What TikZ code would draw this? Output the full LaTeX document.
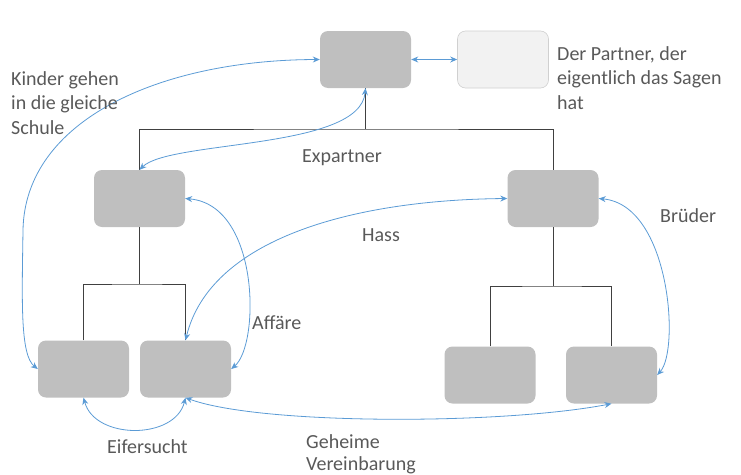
\documentclass[tikz,border=0pt]{standalone}
\usepackage{fontspec}
\setmainfont{Carlito}
\usetikzlibrary{arrows.meta}
\definecolor{boxgray}{HTML}{BFBFBF}
\definecolor{palegray}{HTML}{F2F2F2}
\definecolor{rimgray}{HTML}{D0D0D0}
\definecolor{linkblue}{HTML}{5B9BD5}
\definecolor{txtgray}{HTML}{595959}
\definecolor{treegray}{HTML}{404040}

\begin{document}
\begin{tikzpicture}[x=1pt, y=-1pt,
    box/.style={fill=boxgray, rounded corners=8pt, minimum width=91pt, minimum height=57pt, inner sep=0pt},
    palebox/.style={box, fill=palegray, draw=rimgray, line width=0.6pt},
    tree/.style={draw=treegray, line width=0.9pt},
    link/.style={linkblue, line width=0.8pt, {Stealth[length=7pt,width=6pt]}-{Stealth[length=7pt,width=6pt]}},
    lbl/.style={text=txtgray, font=\fontsize{20}{24.5}\selectfont, inner sep=0pt, align=left, anchor=base west}]
        \useasboundingbox (0, 0) rectangle (741, 474);

        % boxes
        \node[box] (root) at (365.5, 59.5) {};
        \node[palebox] (partner) at (503, 59.5) {};
        \node[box] (midl) at (139.5, 198.5) {};
        \node[box] (midr) at (553, 198.5) {};
        \node[box] (leafa) at (83.5, 369) {};
        \node[box] (leafb) at (185.5, 369) {};
        \node[box] (leafc) at (490, 375) {};
        \node[box] (leafd) at (611.5, 375) {};

        % tree
        \coordinate (j0) at (365.5, 129);
        \coordinate (j1) at (139.5, 284);
        \coordinate (j2) at (553, 286);
        \draw[tree] (root.south) -- (j0);
        \draw[tree] (midl.north) |- (j0) -| (midr.north);
        \draw[tree] (midl.south) -- (j1);
        \draw[tree] (leafa.north) |- (j1) -| (leafb.north);
        \draw[tree] (midr.south) -- (j2);
        \draw[tree] (leafc.north) |- (j2) -| (leafd.north);

        % relations
        \draw[link] (root.east) -- (partner.west);
        \draw[link] (leafa.west) .. controls (20, 355) and (22, 300) .. (23, 230) .. controls (25, 120) and (160, 60) .. (root.west);
        \draw[link] (root.south) .. controls (360, 150) and (170, 140) .. (midl.north);
        \draw[link] (midl.east) .. controls (260, 205) and (260, 345) .. (leafb.east);
        \draw[link] (leafb.north) .. controls (210, 240) and (350, 200) .. (midr.west);
        \draw[link] (midr.east) .. controls (670, 205) and (680, 350) .. (leafd.east);
        \draw[link] (leafa.south) .. controls (95, 440) and (175, 440) .. (leafb.south);
        \draw[link] (leafb.south) .. controls (260, 425) and (500, 425) .. (leafd.south);

        % labels (base = last line)
        \node[lbl] (kinder) at (11, 134) {Kinder gehen\\in die gleiche\\Schule};
        \node[lbl] (sagen) at (557, 109) {Der Partner, der\\eigentlich das Sagen\\hat};
        \node[lbl] (expartner) at (302, 162) {Expartner};
        \node[lbl] (hass) at (362, 241) {Hass};
        \node[lbl] (brueder) at (660, 222) {Brüder};
        \node[lbl] (affaere) at (252, 329) {Affäre};
        \node[lbl] (eifersucht) at (107, 453) {Eifersucht};
        \node[lbl, font=\fontsize{20}{22}\selectfont] (geheim) at (306, 470) {Geheime\\Vereinbarung};
\end{tikzpicture}
\end{document}
